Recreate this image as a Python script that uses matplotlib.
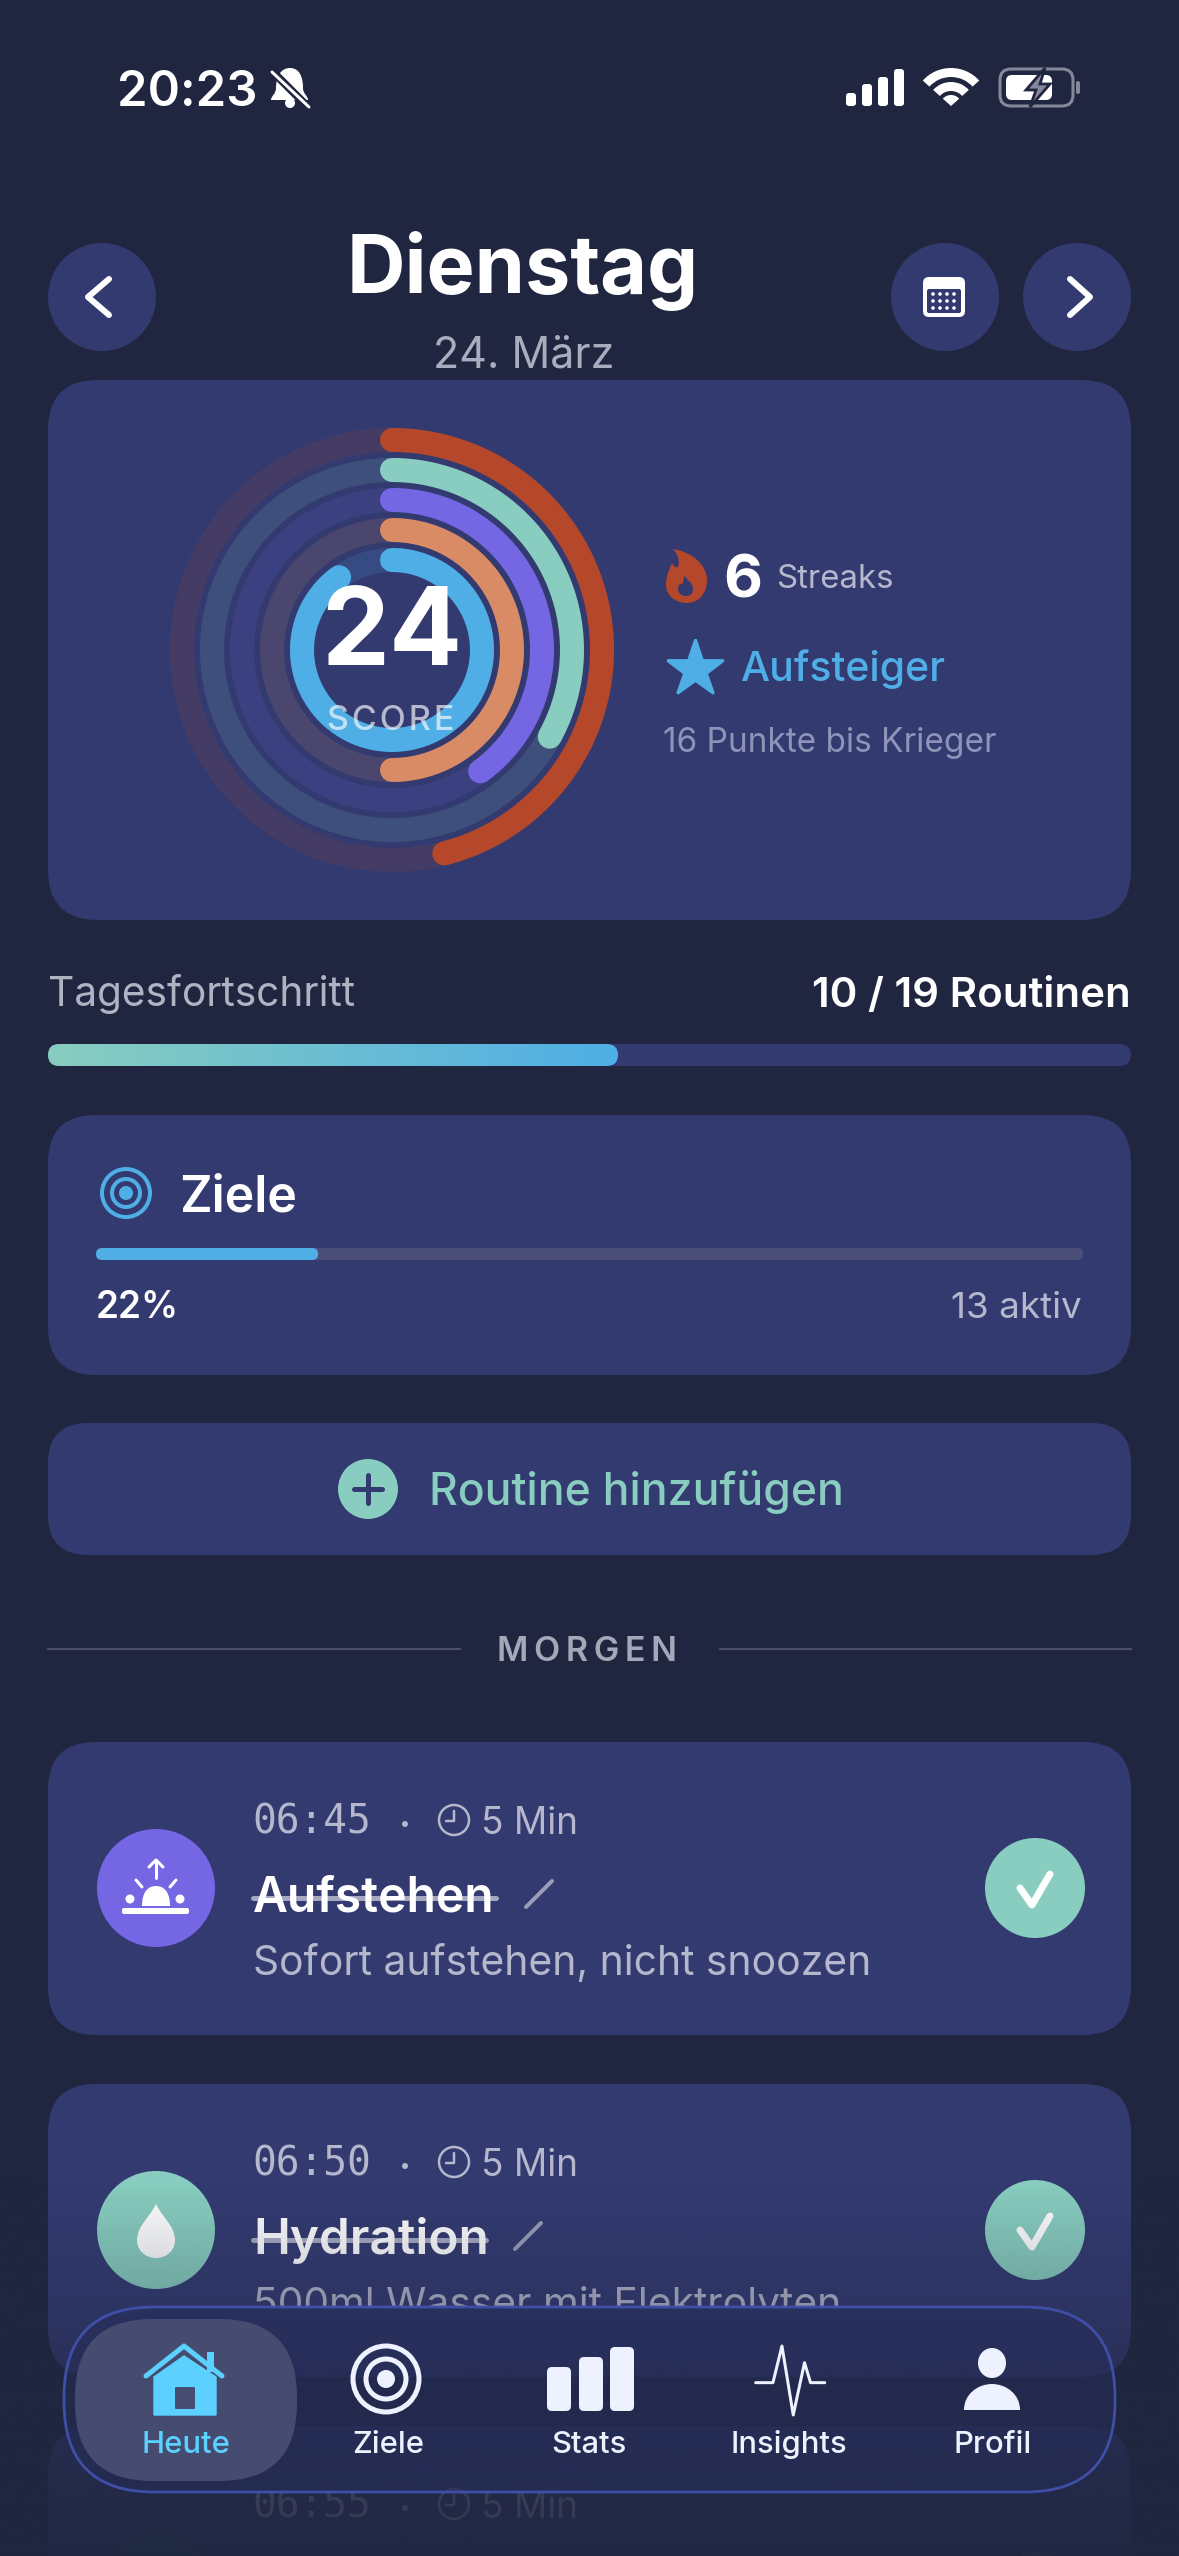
import numpy as np
import matplotlib
matplotlib.use("Agg")
import matplotlib.pyplot as plt
from matplotlib.colors import LinearSegmentedColormap
from matplotlib.patches import Circle, Ellipse, FancyBboxPatch, PathPatch, Polygon, Rectangle, Wedge
from matplotlib.path import Path

W, H = 1179, 2556

BG = "#20263F"
CARD = "#323A70"
WHITE = "#FFFFFF"
ICON_WHITE = "#EEF2FF"
SOFT = "#B5B8CC"
TEAL = "#88CDBF"
BLUE = "#4FAEE6"
CYAN = "#5CD1FF"
FONT = "Inter"

# values
score = 24
ring_values = [46, 33, 40, 50, 90]  # percent of a full turn, outer to inner
ring_colors = ["#B5482B", TEAL, "#7567E4", "#D98B65", BLUE]
ring_radii = [210, 180, 150, 120, 90]
streaks = 6
level = "Aufsteiger"
next_level = "16 Punkte bis Krieger"
routines_done = 10
routines_total = 19
goals_pct = 22
goals_bar = 22.5  # the drawn bar runs a little past the rounded label
goals_active = 13
task_times = ["06:45", "06:50", "06:55"]
task_minutes = [5, 5, 5]
task_titles = ["Aufstehen", "Hydration"]
task_notes = ["Sofort aufstehen, nicht snoozen", "500ml Wasser mit Elektrolyten"]
nav_labels = ["Heute", "Ziele", "Stats", "Insights", "Profil"]
nav_centers = [186, 388, 589, 789, 993]
stats_icon_bars = [44, 54, 64]

fig = plt.figure(figsize=(W / 100, H / 100), dpi=100, facecolor=BG)
ax = fig.add_axes([0, 0, 1, 1])
ax.set_facecolor(BG)
ax.axis("off")


def txt(x, y, s, px, color=WHITE, weight="normal", ha="left", z=3, family=None, **kw):
    return ax.text(x, y, s, fontsize=px * 0.72, color=color, fontweight=weight, ha=ha, va="baseline",
                   zorder=z, family=family or FONT, **kw)


def box(x0, y0, x1, y1, r, color, z=1, **kw):
    p = FancyBboxPatch((x0, y0), x1 - x0, y1 - y0, boxstyle=f"round,pad=0,rounding_size={r}",
                       facecolor=color, edgecolor="none", zorder=z, **kw)
    ax.add_patch(p)
    return p


def line(xs, ys, color=WHITE, px=5, z=3, **kw):
    ax.plot(xs, ys, color=color, lw=px * 0.72, solid_capstyle="round", solid_joinstyle="round", zorder=z, **kw)


def disc(x, y, r, color, z=3):
    ax.add_patch(Circle((x, y), r, facecolor=color, edgecolor="none", zorder=z))


def ring(x, y, r, color, px, z=3):
    ax.add_patch(Circle((x, y), r, facecolor="none", edgecolor=color, lw=px * 0.72, zorder=z))


def curve(points, color, z=3, **kw):
    codes = [Path.MOVETO] + [Path.CURVE4] * (len(points) - 1)
    ax.add_patch(PathPatch(Path(points, codes), facecolor=color, edgecolor="none", zorder=z, **kw))


# status bar
txt(117, 106, "20:23", 49, weight="semibold")
curve([(290, 68), (300, 68), (303, 78), (303, 88), (303, 94), (308, 96), (308, 100),
       (295, 100), (283, 100), (271, 100), (271, 96), (276, 94), (276, 88),
       (276, 78), (280, 68), (290, 68)], WHITE)
disc(290, 103, 5, WHITE)
line([271, 309], [70, 108], BG, 8)
line([272, 309], [72, 107], WHITE, 3)
for bx, top in zip([846, 862, 878, 894], [93, 84, 77, 69]):
    box(bx, top, bx + 10, 106, 3, WHITE)
ax.add_patch(Wedge((951, 106), 38, 222, 318, width=9, facecolor=WHITE, edgecolor="none", zorder=3))
ax.add_patch(Wedge((951, 106), 24, 222, 318, width=9, facecolor=WHITE, edgecolor="none", zorder=3))
ax.add_patch(Wedge((951, 106), 11, 222, 318, facecolor=WHITE, edgecolor="none", zorder=3))
ax.add_patch(FancyBboxPatch((1000, 69), 73, 37, boxstyle="round,pad=0,rounding_size=11", facecolor="none",
                            edgecolor="#84889A", lw=2.2, zorder=3))
box(1006, 75, 1052, 100, 6, WHITE)
box(1076, 81, 1080, 94, 2, "#84889A")
ax.add_patch(Polygon([(1045, 68), (1026, 90), (1036, 90), (1030, 107), (1050, 84), (1040, 84)], closed=True,
                     facecolor="#84889A", edgecolor=BG, lw=2, zorder=4))

# header
disc(102, 297, 54, CARD)
disc(945, 297, 54, CARD)
disc(1077, 297, 54, CARD)
line([109, 88, 109], [279, 297, 315], WHITE, 6)
line([1070, 1090, 1070], [279, 297, 315], WHITE, 6)
box(923, 277, 965, 317, 6, WHITE, z=4)
box(927, 289, 961, 313, 2, CARD, z=5)
for dy in [294, 301, 308]:
    for dx in [933, 940, 947, 954]:
        disc(dx, dy, 1.8, WHITE, z=6)
txt(523, 293, "Dienstag", 81, weight="bold", ha="center")
txt(524, 368, "24. März", 43, color="#A9ADBD", ha="center")

# score card
box(48, 380, 1131, 920, 50, CARD)
cx, cy, reach = 392, 650, 240
ax_ring = fig.add_axes([(cx - reach) / W, (H - cy - reach) / H, 2 * reach / W, 2 * reach / H],
                       projection="polar", zorder=2)
ax_ring.set_theta_zero_location("N")
ax_ring.set_theta_direction(-1)
ax_ring.set_ylim(0, reach)
ax_ring.axis("off")
ax_ring.patch.set_alpha(0)
full_turn = np.linspace(0, 2 * np.pi, 361)
for value, color, radius in zip(ring_values, ring_colors, ring_radii):
    ax_ring.plot(full_turn, np.full(361, radius), color=color, alpha=0.15, lw=24 * 0.72)
    theta = np.linspace(0, 2 * np.pi * value / 100, 181)
    ax_ring.plot(theta, np.full(181, radius), color=color, lw=24 * 0.72, solid_capstyle="round")
ax_ring.text(392, 665, str(score), transform=ax.transData, fontsize=108 * 0.72, color=WHITE, fontweight="bold",
             ha="center", va="baseline", family=FONT, zorder=5)
ax_ring.text(391, 730, "S\u200aC\u200aO\u200aR\u200aE", transform=ax.transData, fontsize=34 * 0.72, color=WHITE, alpha=0.65,
             fontweight="medium", ha="center", va="baseline", family=FONT, zorder=5)

curve([(673, 549), (692, 552), (707, 565), (707, 580), (707, 594), (698, 603), (687, 603), (675, 603), (666, 595),
       (666, 585), (666, 576), (669, 570), (672, 563), (674, 567), (676, 568), (678, 567), (680, 561), (678, 554),
       (673, 549)], ring_colors[0])
curve([(684, 575), (686, 580), (693, 582), (693, 589), (693, 594), (690, 596), (686, 596), (681, 596), (678, 593),
       (678, 589), (678, 585), (680, 583), (682, 584), (684, 582), (684, 578), (684, 575)], CARD, z=4)
txt(723, 597, str(streaks), 60, weight="bold")
txt(776, 588, "Streaks", 33, color=SOFT)
ax.plot([695], [669], marker="*", ms=43, mfc=BLUE, mec=BLUE, mew=2, zorder=3, ls="none")
txt(741, 681, level, 41, color=BLUE, weight="medium")
txt(663, 752, next_level, 33.4, color="#8E93B8")

# day progress
txt(48, 1006, "Tagesfortschritt", 40.6, color="#B0B3C2")
txt(1131, 1007, f"{routines_done} / {routines_total} Routinen", 42, weight="semibold", ha="right")
box(48, 1044, 1131, 1066, 11, CARD)
day_end = 48 + (1131 - 48) * routines_done / routines_total
day_bar = box(48, 1044, day_end, 1066, 11, "none", z=2)
grad = LinearSegmentedColormap.from_list("day", [TEAL, BLUE])
im = ax.imshow(np.linspace(0, 1, 256).reshape(1, -1), cmap=grad, extent=[48, day_end, 1066, 1044], aspect="auto", zorder=3)
im.set_clip_path(day_bar)

# goals card
box(48, 1115, 1131, 1375, 48, CARD)
ring(126, 1193, 24, BLUE, 4)
ring(126, 1193, 14, BLUE, 4)
disc(126, 1193, 7, BLUE)
txt(179, 1212, "Ziele", 50, weight="semibold")
box(96, 1248, 1083, 1260, 6, "#4B4F78", z=2)
box(96, 1248, 96 + (1083 - 96) * goals_bar / 100, 1260, 6, BLUE, z=3)
txt(96, 1318, f"{goals_pct}%", 37, weight="semibold")
txt(1082, 1318, f"{goals_active} aktiv", 36.8, color=SOFT, ha="right")

# add button
box(48, 1423, 1131, 1555, 40, CARD)
disc(368, 1489, 30, TEAL)
line([354, 382], [1489, 1489], CARD, 5)
line([368, 368], [1475, 1503], CARD, 5)
txt(429, 1505, "Routine hinzufügen", 44.5, color=TEAL, weight="medium")

# section divider
ax.plot([48, 460], [1649, 1649], color="#4A4E6A", lw=1.6, zorder=2)
ax.plot([720, 1131], [1649, 1649], color="#4A4E6A", lw=1.6, zorder=2)
txt(587, 1661, "M\u2009O\u2009R\u2009G\u2009E\u2009N", 34, color="#A5A8B8", weight="semibold", ha="center")

# routine cards
nav_top, nav_bottom = 2307, 2492
above_nav = Rectangle((0, 0), W, nav_top, transform=ax.transData)
below_nav = Rectangle((0, nav_bottom), W, H - nav_bottom, transform=ax.transData)
offsets = [0, 342, 684]
for i, off in enumerate(offsets):
    box(48, 1742 + off, 1131, 2035 + off, 48, CARD)
    clip = below_nav if i == 2 else above_nav
    t = txt(252, 1834 + off, task_times[i], 39.5, color=SOFT, family="DejaVu Sans Mono", clip_on=True)
    t.set_clip_path(clip)
    disc(405, 1824 + off, 3, SOFT)
    ring(454, 1820 + off, 15, SOFT, 2.5)
    line([454, 454, 446], [1811 + off, 1821 + off, 1821 + off], SOFT, 2.5)
    t = txt(481, 1834 + off, f"{task_minutes[i]} Min", 37, color=SOFT, clip_on=True)
    t.set_clip_path(clip)

for i, title in enumerate(task_titles):
    off = offsets[i]
    txt(253, 1912 + off, title, [48, 49.5][i], weight="semibold", z=4)
    title_end = [496, 486][i]
    line([253, title_end], [1898 + off, 1898 + off], "#A5A8C0", 5, z=3)
    pen = [526, 515][i]
    line([pen, pen + 26], [1907 + off, 1881 + off], "#9A9DB8", 4)
    t = txt(253, 1975 + off, task_notes[i], 40.8, color=SOFT, clip_on=True)
    t.set_clip_path(above_nav)
    disc(1035, 1888 + off, 50, TEAL)
    line([1020, 1032, 1050], [1888 + off, 1905 + off, 1874 + off], WHITE, 7, z=4)

disc(156, 1888, 59, ring_colors[2])
box(122, 1908, 189, 1914, 2, WHITE, z=4)
curve([(142, 1906), (142, 1892), (148, 1886), (156, 1886), (164, 1886), (170, 1892), (170, 1906), (142, 1906), (142, 1906), (142, 1906)], WHITE, z=4)
disc(130, 1899, 4.5, WHITE, z=4)
disc(180, 1899, 4.5, WHITE, z=4)
line([136, 142], [1880, 1887], WHITE, 3, z=4)
line([176, 170], [1880, 1887], WHITE, 3, z=4)
line([156, 156], [1860, 1878], WHITE, 3, z=4)
line([149, 156, 163], [1867, 1860, 1867], WHITE, 3, z=4)

disc(156, 2230, 59, TEAL)
curve([(156, 2204), (162, 2217), (175, 2226), (175, 2240), (175, 2251), (166, 2258), (156, 2258), (146, 2258), (137, 2251),
       (137, 2240), (137, 2226), (150, 2217), (156, 2204)], WHITE, z=4)

disc(156, 2594, 59, "#24506A")
disc(1037, 2603, 50, "#4A7F80")

# fade towards the bottom of the screen
fade_y = np.arange(2180, H + 1)
fade = np.zeros((len(fade_y), 1, 4))
fade[:, 0, :3] = matplotlib.colors.to_rgb(BG)
fade[:, 0, 3] = np.interp(fade_y, [2180, 2300, 2400, 2500, 2556], [0, 0.25, 0.6, 0.85, 0.92])
ax.imshow(fade, extent=[0, W, H, 2180], aspect="auto", zorder=5)

# tab bar
ax.add_patch(FancyBboxPatch((64, nav_top), 1051, nav_bottom - nav_top, boxstyle="round,pad=0,rounding_size=90",
                            facecolor=(0.15, 0.175, 0.35, 0.55), edgecolor="#3F4FA8", lw=2, zorder=6))
box(75, 2319, 297, 2481, 78, "#484E72", z=7, alpha=0.95)
for x, label in zip(nav_centers, nav_labels):
    color = CYAN if label == "Heute" else ICON_WHITE
    txt(x, 2453, label, 31, color=color, weight="medium", ha="center", z=9)

line([146, 184, 222], [2376, 2346, 2376], CYAN, 5, z=8)
ax.add_patch(Polygon([(154, 2377), (184, 2356), (216, 2377), (216, 2415), (154, 2415)], closed=True, facecolor=CYAN, edgecolor=CYAN, lw=1, zorder=8))
box(207, 2352, 214, 2372, 1, CYAN, z=8)
box(175, 2387, 195, 2409, 1, "#484E72", z=9)
ring(386, 2379, 33, ICON_WHITE, 5, z=8)
ring(386, 2379, 20, ICON_WHITE, 5, z=8)
disc(386, 2379, 9, ICON_WHITE, z=8)
for bx, bar_h in zip([547, 579, 610], stats_icon_bars):
    box(bx, 2411 - bar_h, bx + 24, 2411, 5, ICON_WHITE, z=8)
line(np.array([1005, 1028, 1040, 1055, 1070, 1078, 1097]) / 1.33,
     2250 + np.array([398, 398, 288, 495, 338, 398, 398]) / 3, ICON_WHITE, 3, z=8)
ax.add_patch(Ellipse((992, 2363), 28, 30, facecolor=ICON_WHITE, edgecolor="none", zorder=8))
curve([(964, 2410), (964, 2394), (978, 2384), (992, 2384), (1006, 2384), (1020, 2394), (1020, 2410),
       (1001, 2410), (983, 2410), (964, 2410)], ICON_WHITE, z=8)

ax.set_xlim(0, W)
ax.set_ylim(H, 0)
fig.savefig("out.png", dpi=100, facecolor=BG)
